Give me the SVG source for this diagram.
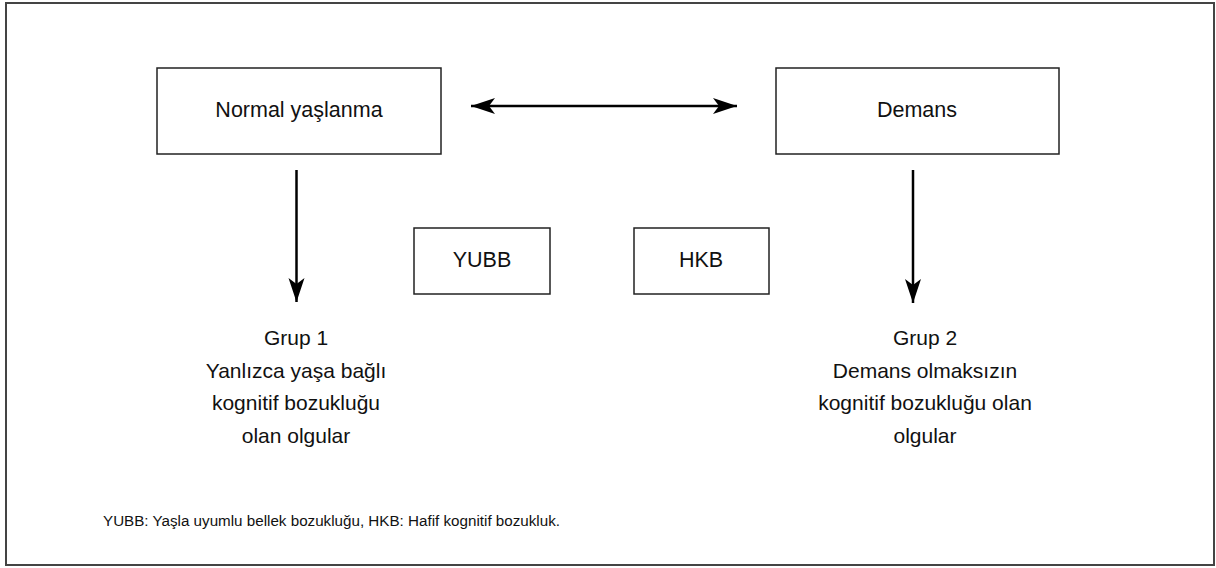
<svg xmlns="http://www.w3.org/2000/svg" width="1216" height="568" viewBox="0 0 1216 568">
<style>
  .box { fill: #fff; stroke: #222; stroke-width: 1.5; }
  .t { font-family: "Liberation Sans", Arial, sans-serif; font-size: 21px; fill: #111; text-anchor: middle; }
  .tb { font-size: 21.5px; }
  .fn { font-family: "Liberation Sans", Arial, sans-serif; font-size: 15.2px; fill: #111; }
  .c { stroke: #000; stroke-width: 2.5; fill: none; }
</style>
<defs>
  <marker id="ah" markerUnits="userSpaceOnUse" viewBox="-25 -9 26 18" refX="0" refY="0" markerWidth="26" markerHeight="18" orient="auto-start-reverse">
    <path d="M0,0 L-24,-8 L-18,0 L-24,8 Z" fill="#000"/>
  </marker>
</defs>
<rect x="6" y="3" width="1208" height="562" fill="#fff" stroke="#444" stroke-width="2"/>
<g id="n-normal">
  <rect class="box" x="157" y="68" width="284" height="86"/>
  <text class="t tb" x="299" y="117">Normal yaşlanma</text>
</g>
<g id="n-demans">
  <rect class="box" x="776" y="68" width="283" height="86"/>
  <text class="t tb" x="917" y="117">Demans</text>
</g>
<g id="n-yubb">
  <rect class="box" x="414" y="228" width="136" height="66"/>
  <text class="t tb" x="482" y="267">YUBB</text>
</g>
<g id="n-hkb">
  <rect class="box" x="634" y="228" width="135" height="66"/>
  <text class="t tb" x="701" y="267">HKB</text>
</g>
<g id="n-grup1">
  <text class="t" x="296" y="345">Grup 1</text>
  <text class="t" x="296" y="378">Yanlızca yaşa bağlı</text>
  <text class="t" x="296" y="410">kognitif bozukluğu</text>
  <text class="t" x="296" y="443">olan olgular</text>
</g>
<g id="n-grup2">
  <text class="t" x="925" y="345">Grup 2</text>
  <text class="t" x="925" y="378">Demans olmaksızın</text>
  <text class="t" x="925" y="410">kognitif bozukluğu olan</text>
  <text class="t" x="925" y="443">olgular</text>
</g>
<g id="connectors">
  <line class="c" x1="471" y1="106" x2="737" y2="106" marker-start="url(#ah)" marker-end="url(#ah)"/>
  <line class="c" x1="296.5" y1="170" x2="296.5" y2="302" marker-end="url(#ah)"/>
  <line class="c" x1="913" y1="170" x2="913" y2="303" marker-end="url(#ah)"/>
</g>
<text class="fn" x="103" y="526">YUBB: Yaşla uyumlu bellek bozukluğu, HKB: Hafif kognitif bozukluk.</text>
</svg>
